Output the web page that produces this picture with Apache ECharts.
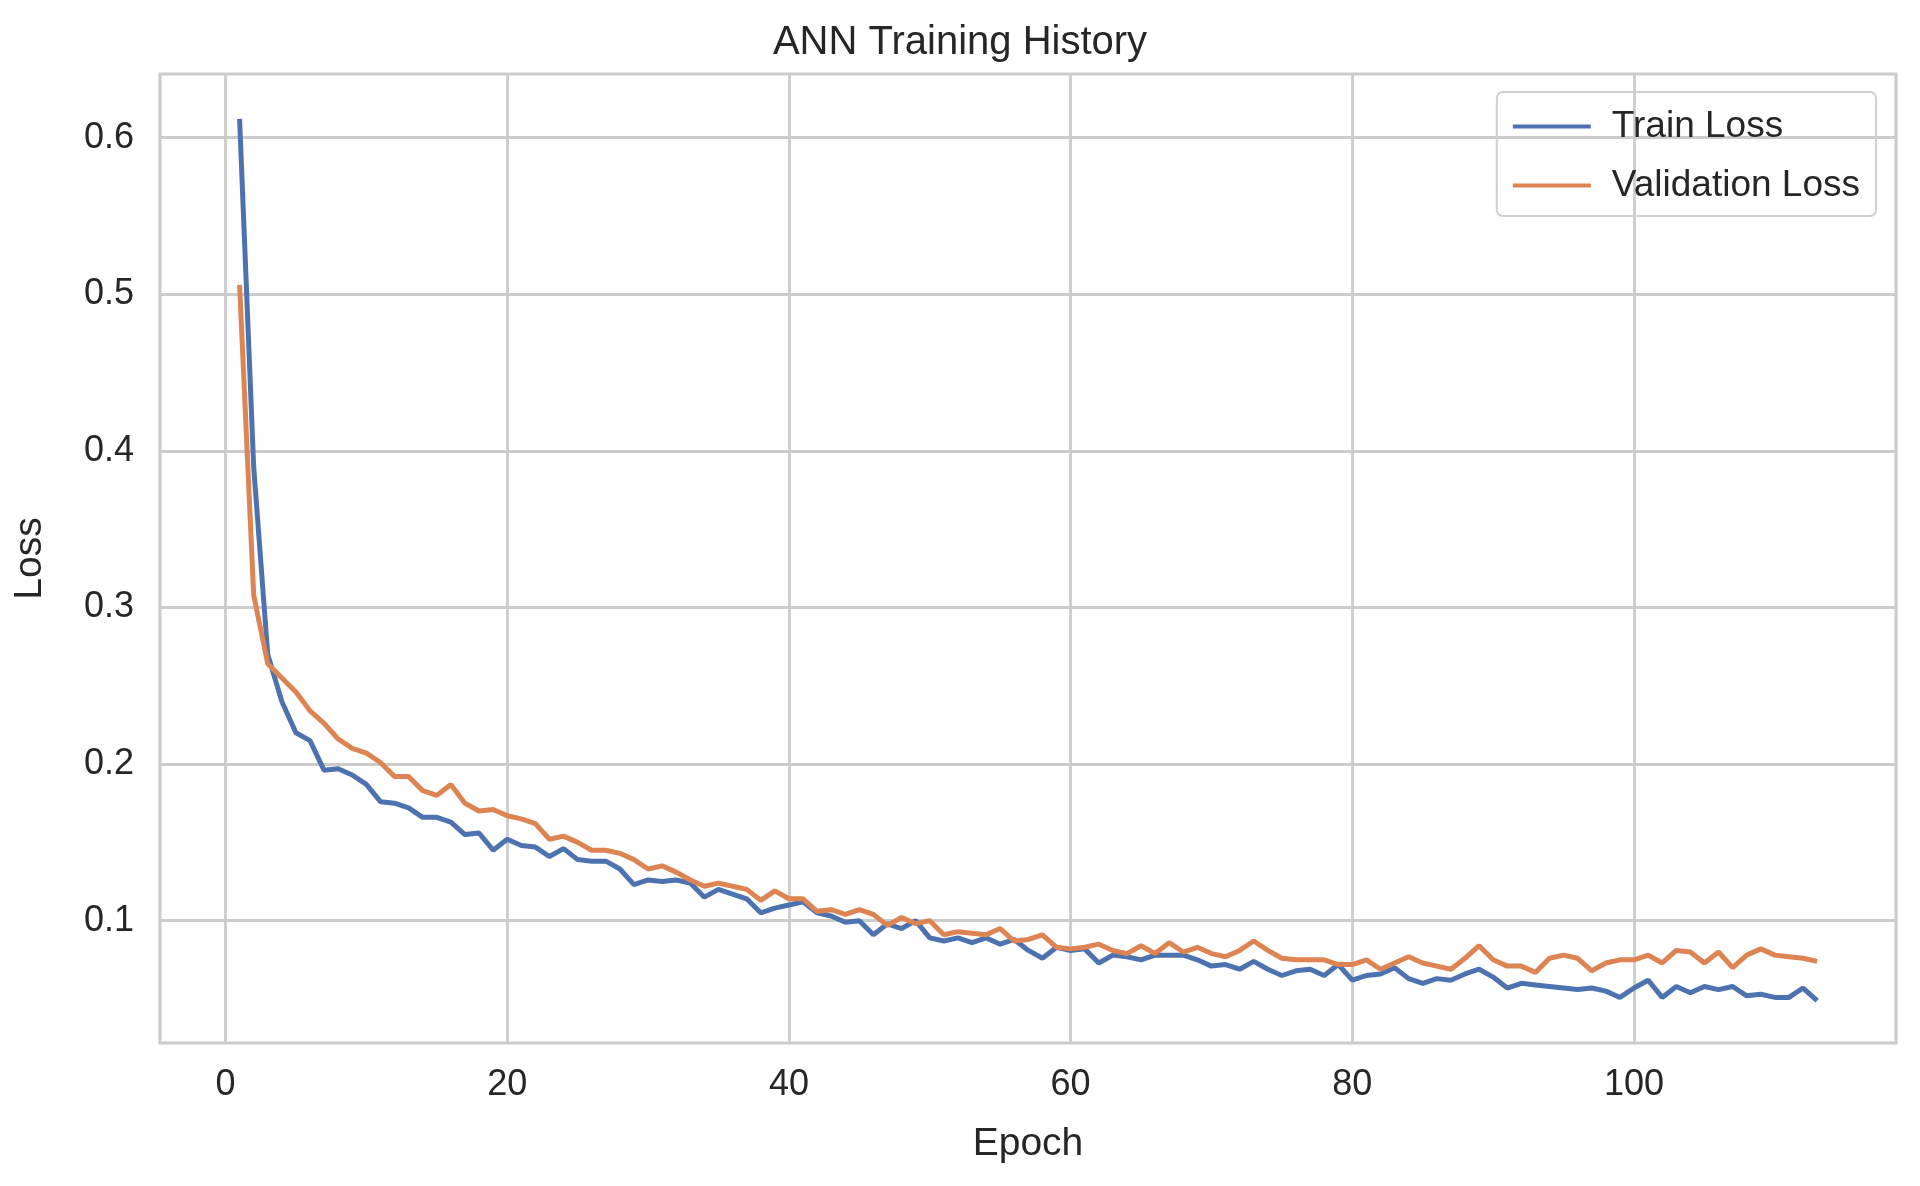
<!DOCTYPE html>
<html><head><meta charset="utf-8">
<script src="https://cdn.jsdelivr.net/npm/echarts@6/dist/echarts.min.js"></script>
<style>html,body{margin:0;padding:0;background:#fff}#c{width:1920px;height:1186px}</style>
</head><body><div id="c"></div>
<script>
const trainLoss=[0.612,0.39,0.27,0.24,0.22,0.215,0.196,0.197,0.193,0.187,0.176,0.175,0.172,0.166,0.166,0.163,0.155,0.156,0.145,0.152,0.148,0.147,0.141,0.146,0.139,0.138,0.138,0.133,0.123,0.126,0.125,0.126,0.124,0.115,0.12,0.117,0.114,0.105,0.108,0.11,0.112,0.105,0.103,0.099,0.1,0.091,0.098,0.095,0.1,0.089,0.087,0.089,0.086,0.089,0.085,0.088,0.081,0.076,0.083,0.081,0.082,0.073,0.078,0.077,0.075,0.078,0.078,0.078,0.075,0.071,0.072,0.069,0.074,0.069,0.065,0.068,0.069,0.065,0.072,0.062,0.065,0.066,0.07,0.063,0.06,0.063,0.062,0.066,0.069,0.064,0.057,0.06,0.059,0.058,0.057,0.056,0.057,0.055,0.051,0.057,0.062,0.051,0.058,0.054,0.058,0.056,0.058,0.052,0.053,0.051,0.051,0.057,0.049];
const valLoss=[0.506,0.308,0.264,0.255,0.246,0.234,0.226,0.216,0.21,0.207,0.201,0.192,0.192,0.183,0.18,0.187,0.175,0.17,0.171,0.167,0.165,0.162,0.152,0.154,0.15,0.145,0.145,0.143,0.139,0.133,0.135,0.131,0.126,0.122,0.124,0.122,0.12,0.113,0.119,0.114,0.114,0.106,0.107,0.104,0.107,0.104,0.097,0.102,0.098,0.1,0.091,0.093,0.092,0.091,0.095,0.087,0.088,0.091,0.083,0.082,0.083,0.085,0.081,0.079,0.084,0.079,0.086,0.08,0.083,0.079,0.077,0.081,0.087,0.081,0.076,0.075,0.075,0.075,0.072,0.072,0.075,0.069,0.073,0.077,0.073,0.071,0.069,0.076,0.084,0.075,0.071,0.071,0.067,0.076,0.078,0.076,0.068,0.073,0.075,0.075,0.078,0.073,0.081,0.08,0.073,0.08,0.07,0.078,0.082,0.078,0.077,0.076,0.074];
const xTicks=[0,20,40,60,80,100];
const yTicks=[0.1,0.2,0.3,0.4,0.5,0.6];
const tr=trainLoss.map((v,i)=>[i+1,v]);
const va=valLoss.map((v,i)=>[i+1,v]);
const font='Liberation Sans';
const gl={show:true,lineStyle:{color:'#cccccc',width:2.8}};
const chart=echarts.init(document.getElementById('c'));
chart.setOption({
  animation:false,
  textStyle:{fontFamily:font},
  title:{text:'ANN Training History',left:'center',top:18,textStyle:{fontFamily:font,fontSize:40,fontWeight:'normal',color:'#262626'}},
  grid:{left:160,right:24,top:74,bottom:143,show:true,borderColor:'#cccccc',borderWidth:3},
  legend:{top:92,right:44,orient:'vertical',itemWidth:78,itemHeight:4,itemGap:22,padding:[16,16,12,16],
    borderColor:'#d0d0d0',borderWidth:2,borderRadius:6,
    textStyle:{fontFamily:font,fontSize:37,color:'#262626',padding:[0,0,0,16]},icon:'rect'},
  xAxis:{type:'value',min:-4.65,max:118.6,name:'Epoch',nameLocation:'middle',nameGap:82,
    nameTextStyle:{fontFamily:font,fontSize:39,color:'#262626'},
    axisLine:{show:false},axisTick:{show:false,customValues:xTicks},
    axisLabel:{customValues:xTicks,fontSize:36,color:'#262626',margin:24},
    splitLine:gl},
  yAxis:{type:'value',min:0.0219,max:0.6406,name:'Loss',nameLocation:'middle',nameGap:110,
    nameTextStyle:{fontFamily:font,fontSize:39,color:'#262626'},
    axisLine:{show:false},axisTick:{show:false,customValues:yTicks},
    axisLabel:{customValues:yTicks,fontSize:36,color:'#262626',margin:26,formatter:v=>(+v).toFixed(1)},
    splitLine:gl},
  series:[
    {name:'Train Loss',type:'line',data:tr,showSymbol:false,lineStyle:{color:'#4c72b0',width:5},itemStyle:{color:'#4c72b0'}},
    {name:'Validation Loss',type:'line',data:va,showSymbol:false,lineStyle:{color:'#dd8452',width:5},itemStyle:{color:'#dd8452'}}
  ]
});
</script></body></html>
